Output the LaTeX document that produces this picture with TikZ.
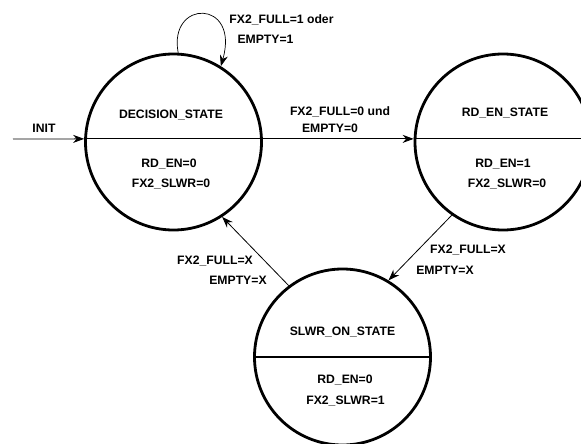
\documentclass[tikz,border=0pt]{standalone}
\usepackage{fontspec}
\setmainfont{Liberation Sans}
\usetikzlibrary{arrows.meta}
\begin{document}
\begin{tikzpicture}[x=1pt,y=-1pt,
  state/.style={circle,draw,line width=2.8pt,minimum size=176pt,inner sep=0pt},
  divider/.style={line width=1.2pt},
  trans/.style={line width=0.8pt,-{Stealth[length=11pt,width=8pt,inset=3.5pt]}},
  lbl/.style={font=\fontsize{12.2}{14}\selectfont\bfseries,inner sep=0pt}]
\useasboundingbox (0,0) rectangle (581,444);
\clip (0,0) rectangle (581,444);

% states
\node[state] (d) at (173.5,142) {};
\node[state] (r) at (503,142) {};
\node[state] (s) at (342.5,357) {};

% dividing lines between state name and outputs
\draw[divider] (d.178) -- (d.2);
\draw[divider] (r.178) -- (r.2);
\draw[divider] (s.180) -- (s.0);

% state texts
\node[lbl] (dname) at (171,115) {DECISION\_STATE};
\node[lbl] (dout1) at (169,164) {RD\_EN=0};
\node[lbl] (dout2) at (171,184) {FX2\_SLWR=0};

\node[lbl] (rname) at (505,113) {RD\_EN\_STATE};
\node[lbl] (rout1) at (503,164) {RD\_EN=1};
\node[lbl] (rout2) at (507,184) {FX2\_SLWR=0};

\node[lbl] (sname) at (342.5,332) {SLWR\_ON\_STATE};
\node[lbl] (sout1) at (345,380) {RD\_EN=0};
\node[lbl] (sout2) at (345.5,401) {FX2\_SLWR=1};

% transitions
\coordinate (i0) at (13,139);
\draw[trans] (i0) -- (d.178);
\node[lbl] (init) at (44,128) {INIT};

\draw[trans,line width=0.7pt] (d.87) .. controls (168,-1) and (240,-1) .. (d.58);
\node[lbl] (loop1) at (281.5,20) {FX2\_FULL=1 oder};
\node[lbl] (loop2) at (265.5,39) {EMPTY=1};

\draw[trans] (d.2) -- (r.178);
\node[lbl] (dr1) at (340,112) {FX2\_FULL=0 und};
\node[lbl] (dr2) at (330,128) {EMPTY=0};

\draw[trans] (r.235.6) -- (s.59.4);
\node[lbl] (rs1) at (468,250) {FX2\_FULL=X};
\node[lbl] (rs2) at (445,270) {EMPTY=X};

\draw[trans] (s.127.5) -- (d.303);
\node[lbl] (sd1) at (215,261) {FX2\_FULL=X};
\node[lbl] (sd2) at (238,280) {EMPTY=X};
\end{tikzpicture}
\end{document}
